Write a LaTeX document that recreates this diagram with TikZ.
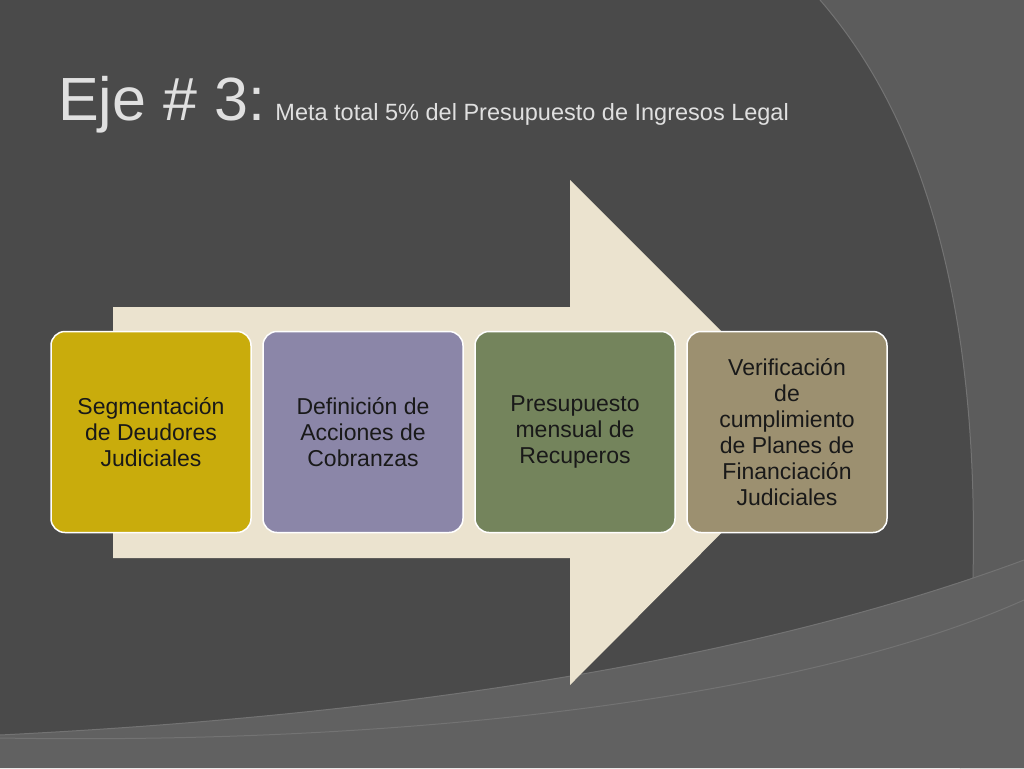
\documentclass[tikz,border=0pt]{standalone}
\usepackage{fontspec}
\setmainfont{Liberation Sans}
\begin{document}
\begin{tikzpicture}[x=1pt,y=-1pt,
 box/.style={draw=white,line width=1.5pt,rounded corners=14pt,minimum width=200pt,minimum height=201pt,align=center,font=\fontsize{23}{26}\selectfont,text=black!90,inner sep=0pt}]
\useasboundingbox (0,0) rectangle (1024,768);
\fill[black!71] (0,0) rectangle (1024,768);
\fill[black!64] (820,0) .. controls (950,150) and (1000,400) .. (960,768) -- (1024,768) -- (1024,0) -- cycle;
\draw[black!55,line width=1pt] (820,0) .. controls (950,150) and (1000,400) .. (960,768);
\fill[black!62] (0,735) .. controls (300,720) and (700,680) .. (1024,560) -- (1024,768) -- (0,768) -- cycle;
\draw[black!55,line width=1pt] (0,735) .. controls (300,720) and (700,680) .. (1024,560);
\draw[black!55,line width=1pt] (0,738) .. controls (400,745) and (800,700) .. (1024,600);
\node[anchor=base west,text=black!12,font=\fontsize{61}{61}\selectfont,inner sep=0pt] (t) at (58,120) {Eje \# 3:};
\node[anchor=base west,text=black!12,font=\fontsize{23.5}{24}\selectfont,inner sep=0pt] (s) at (t.base east) {\hspace{10pt}Meta total 5\% del Presupuesto de Ingresos Legal};
\fill[fill={rgb,255:red,235;green,227;blue,207}] (113,307) -- (570,307) -- (570,180) -- (822,432) -- (570,685) -- (570,558) -- (113,558) -- cycle;
\node[box,fill={rgb,255:red,201;green,172;blue,12}] (b1) at (151,432) {Segmentación\\de Deudores\\Judiciales};
\node[box,fill={rgb,255:red,139;green,134;blue,168}] (b2) at (363,432) {Definición de\\Acciones de\\Cobranzas};
\node[box,fill={rgb,255:red,116;green,132;blue,92}] (b3) at (575,432) {Presupuesto\\mensual de\\Recuperos};
\node[box,fill={rgb,255:red,156;green,144;blue,112}] (b4) at (787,432) {Verificación\\de\\cumplimiento\\de Planes de\\Financiación\\Judiciales};
\end{tikzpicture}
\end{document}
